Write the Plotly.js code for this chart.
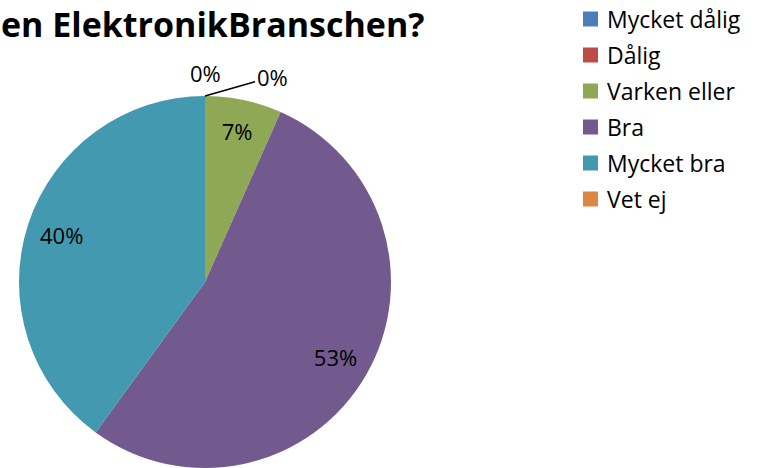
<!DOCTYPE html>
<html>
<head>
<meta charset="utf-8">
<script src="https://cdn.plot.ly/plotly-3.0.1.min.js"></script>
<style>
  html, body { margin: 0; padding: 0; background: #fff; }
  #chart { width: 758px; height: 468px; }
</style>
</head>
<body>
<div id="chart"></div>
<script>
// Svarsalternativ och antal svar
var kategorier = ['Mycket dålig', 'Dålig', 'Varken eller', 'Bra', 'Mycket bra', 'Vet ej'];
var antal = [0, 0, 1, 8, 6, 0];
var farger = ['#4A7EBB', '#BE4B48', '#8FA856', '#725A8F', '#4399AF', '#DD8642'];

var titel = 'en ElektronikBranschen?';
var typsnitt = '"Open Sans", "DejaVu Sans", sans-serif';

var summa = antal.reduce(function (a, b) { return a + b; }, 0);
function procent(v) { return Math.round(v / summa * 100) + '%'; }

var doman = { x: [19 / 758, 391 / 758], y: [0, 372 / 468] };

// själva tårtan
var trace1 = {
    type: 'pie',
    labels: kategorier,
    values: antal,
    sort: false,
    direction: 'clockwise',
    rotation: 0,
    marker: { colors: farger, line: { width: 0 } },
    textinfo: 'none',
    showlegend: false,
    domain: doman,
    hoverinfo: 'label+percent'
};

// genomskinlig ring som bara bär procentetiketterna längre ut
var trace2 = {
    type: 'pie',
    labels: kategorier,
    values: antal,
    sort: false,
    direction: 'clockwise',
    rotation: 0,
    hole: 0.62,
    marker: { colors: kategorier.map(function () { return 'rgba(0,0,0,0)'; }), line: { width: 0 } },
    text: antal.map(function (v) { return v > 0 ? procent(v) : ''; }),
    textinfo: 'text',
    textposition: 'inside',
    insidetextorientation: 'horizontal',
    textfont: { family: typsnitt, size: 22, color: '#000' },
    showlegend: false,
    domain: doman,
    hoverinfo: 'skip'
};

// Förklaring (legend) byggd från kategorierna
var annotations = [];
var shapes = [];
kategorier.forEach(function (k, i) {
    var yc = 19 + i * 36;
    shapes.push({
        type: 'rect', xref: 'paper', yref: 'paper',
        x0: 583 / 758, x1: 598 / 758,
        y0: 1 - (yc + 7.5) / 468, y1: 1 - (yc - 7.5) / 468,
        fillcolor: farger[i], line: { width: 0 }
    });
    annotations.push({
        xref: 'paper', yref: 'paper',
        x: 605 / 758, y: 1 - yc / 468,
        xanchor: 'left', yanchor: 'middle',
        text: k, showarrow: false,
        font: { family: typsnitt, size: 23, color: '#000' }
    });
});

// 0%-etiketter för tomma tårtbitar
annotations.push({
    xref: 'paper', yref: 'paper',
    x: 205 / 758, y: 1 - 73 / 468,
    xanchor: 'center', yanchor: 'middle',
    text: procent(antal[0]), showarrow: false,
    font: { family: typsnitt, size: 22, color: '#000' }
});
annotations.push({
    xref: 'paper', yref: 'paper',
    x: 205 / 758, y: 1 - 96 / 468,
    ax: 67, ay: -19,
    text: procent(antal[1]), showarrow: true,
    arrowhead: 0, arrowwidth: 1.5, arrowcolor: '#000',
    font: { family: typsnitt, size: 22, color: '#000' }
});

var layout = {
    width: 758,
    height: 468,
    margin: { l: 0, r: 0, t: 0, b: 0 },
    paper_bgcolor: '#fff',
    title: {
        text: '<b>' + titel + '</b>',
        x: 1 / 758, xanchor: 'left',
        y: 1 - 25 / 468, yanchor: 'middle',
        font: { family: typsnitt, size: 34, color: '#000' }
    },
    annotations: annotations,
    shapes: shapes
};

Plotly.newPlot('chart', [trace1, trace2], layout, { displayModeBar: false });
</script>
</body>
</html>
